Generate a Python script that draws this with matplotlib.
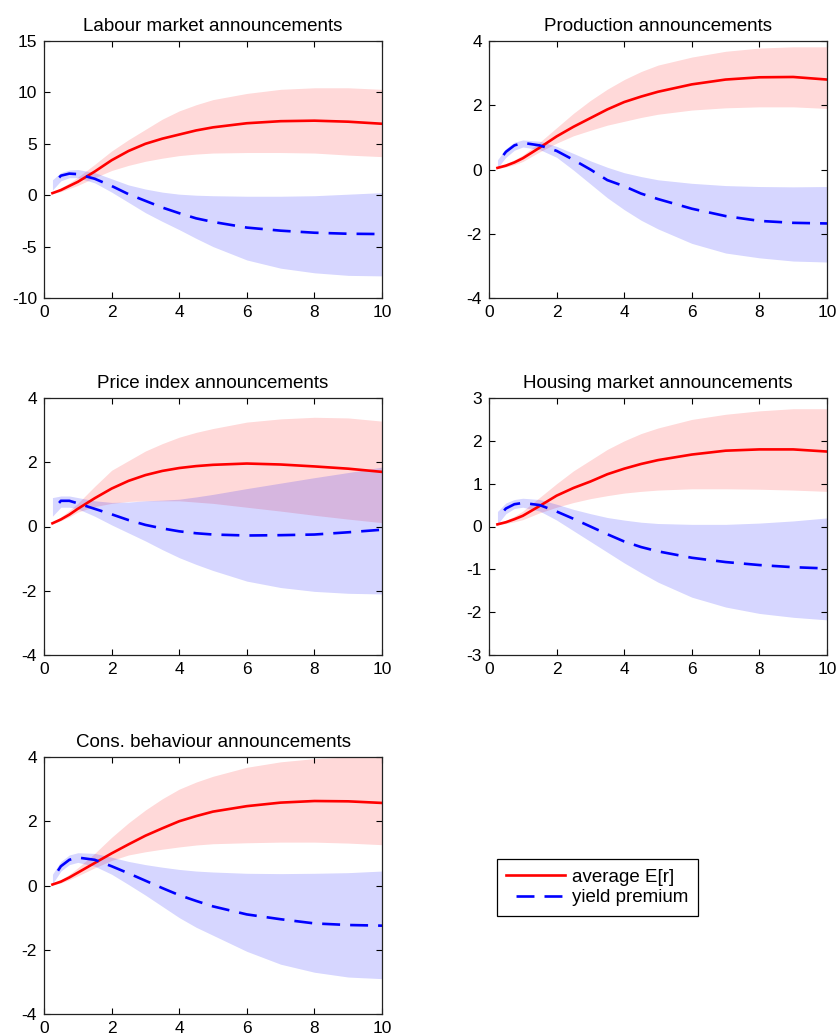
import matplotlib
matplotlib.use("Agg")
import matplotlib.pyplot as plt
from matplotlib.lines import Line2D

plt.rcParams['font.family'] = ['Liberation Sans', 'DejaVu Sans']
plt.rcParams['axes.unicode_minus'] = False

# horizon (years)
x = [0.25, 0.5, 0.75, 1, 1.5, 2, 2.5, 3, 3.5, 4, 4.5, 5, 6, 7, 8, 9, 10]

titles = ["Labour market announcements", "Production announcements",
          "Price index announcements", "Housing market announcements",
          "Cons. behaviour announcements"]
ylims = [(-10, 15), (-4, 4), (-4, 4), (-3, 3), (-4, 4)]
yticks = [[-10, -5, 0, 5, 10, 15], [-4, -2, 0, 2, 4], [-4, -2, 0, 2, 4],
          [-3, -2, -1, 0, 1, 2, 3], [-4, -2, 0, 2, 4]]
xticks = [0, 2, 4, 6, 8, 10]

# average E[r]
er_labour = [0.2, 0.5, 0.9, 1.3, 2.3, 3.4, 4.3, 5.0, 5.5, 5.9, 6.3, 6.6, 7.0, 7.2, 7.25, 7.15, 6.95]
er_labour_hi = [0.25, 0.7, 1.2, 1.75, 3.0, 4.3, 5.4, 6.4, 7.4, 8.2, 8.8, 9.3, 9.9, 10.3, 10.45, 10.45, 10.3]
er_labour_lo = [0.15, 0.35, 0.65, 0.95, 1.7, 2.4, 2.9, 3.3, 3.6, 3.85, 4.0, 4.1, 4.15, 4.15, 4.1, 3.9, 3.75]
yp_labour = [1.0, 1.9, 2.1, 2.05, 1.6, 0.9, 0.1, -0.55, -1.2, -1.75, -2.25, -2.6, -3.15, -3.45, -3.65, -3.75, -3.78]
yp_labour_hi = [1.5, 2.2, 2.45, 2.5, 2.2, 1.6, 1.0, 0.6, 0.3, 0.1, 0.0, -0.05, -0.1, -0.1, -0.05, 0.1, 0.25]
yp_labour_lo = [0.5, 1.4, 1.7, 1.7, 1.2, 0.3, -0.7, -1.7, -2.55, -3.35, -4.2, -5.0, -6.3, -7.1, -7.55, -7.8, -7.85]

er_prod = [0.05, 0.12, 0.22, 0.35, 0.68, 1.03, 1.33, 1.6, 1.87, 2.1, 2.27, 2.42, 2.65, 2.8, 2.87, 2.88, 2.8]
er_prod_hi = [0.07, 0.18, 0.3, 0.45, 0.85, 1.3, 1.75, 2.15, 2.5, 2.8, 3.05, 3.25, 3.5, 3.68, 3.78, 3.82, 3.82]
er_prod_lo = [0.03, 0.08, 0.15, 0.25, 0.55, 0.82, 1.05, 1.22, 1.38, 1.5, 1.62, 1.72, 1.85, 1.92, 1.95, 1.95, 1.9]
yp_prod = [0.2, 0.55, 0.75, 0.83, 0.75, 0.58, 0.3, 0.0, -0.33, -0.52, -0.75, -0.92, -1.22, -1.45, -1.6, -1.66, -1.68]
yp_prod_hi = [0.3, 0.65, 0.85, 0.92, 0.88, 0.72, 0.5, 0.27, 0.07, -0.1, -0.22, -0.32, -0.43, -0.5, -0.53, -0.54, -0.53]
yp_prod_lo = [0.05, 0.38, 0.6, 0.7, 0.62, 0.38, -0.02, -0.45, -0.88, -1.25, -1.58, -1.85, -2.3, -2.6, -2.75, -2.85, -2.88]

er_price = [0.1, 0.22, 0.37, 0.55, 0.88, 1.18, 1.42, 1.6, 1.73, 1.82, 1.88, 1.92, 1.96, 1.93, 1.87, 1.8, 1.7]
er_price_hi = [0.12, 0.3, 0.5, 0.72, 1.25, 1.75, 2.05, 2.35, 2.58, 2.78, 2.93, 3.05, 3.25, 3.35, 3.4, 3.38, 3.28]
er_price_lo = [0.08, 0.18, 0.3, 0.45, 0.62, 0.72, 0.78, 0.8, 0.8, 0.8, 0.76, 0.72, 0.6, 0.48, 0.35, 0.23, 0.12]
yp_price = [0.5, 0.8, 0.8, 0.72, 0.55, 0.38, 0.2, 0.05, -0.06, -0.15, -0.21, -0.25, -0.28, -0.27, -0.25, -0.18, -0.1]
yp_price_hi = [0.9, 0.95, 0.95, 0.9, 0.8, 0.75, 0.76, 0.8, 0.82, 0.85, 0.92, 1.0, 1.18, 1.35, 1.52, 1.68, 1.85]
yp_price_lo = [0.32, 0.6, 0.6, 0.55, 0.32, 0.05, -0.2, -0.45, -0.72, -0.97, -1.18, -1.37, -1.7, -1.9, -2.02, -2.08, -2.1]

er_house = [0.05, 0.1, 0.17, 0.25, 0.48, 0.72, 0.9, 1.05, 1.22, 1.35, 1.46, 1.55, 1.68, 1.77, 1.8, 1.8, 1.75]
er_house_hi = [0.06, 0.14, 0.24, 0.36, 0.68, 1.0, 1.3, 1.55, 1.8, 2.0, 2.17, 2.3, 2.5, 2.62, 2.7, 2.75, 2.75]
er_house_lo = [0.04, 0.07, 0.11, 0.16, 0.32, 0.45, 0.56, 0.65, 0.72, 0.78, 0.82, 0.85, 0.88, 0.88, 0.87, 0.85, 0.82]
yp_house = [0.2, 0.42, 0.52, 0.55, 0.5, 0.35, 0.18, 0.0, -0.18, -0.35, -0.48, -0.58, -0.73, -0.83, -0.9, -0.95, -0.98]
yp_house_hi = [0.35, 0.55, 0.63, 0.66, 0.63, 0.52, 0.4, 0.3, 0.21, 0.15, 0.1, 0.07, 0.05, 0.05, 0.08, 0.13, 0.2]
yp_house_lo = [0.05, 0.3, 0.42, 0.45, 0.36, 0.15, -0.1, -0.35, -0.6, -0.85, -1.08, -1.3, -1.65, -1.88, -2.03, -2.12, -2.18]

er_cons = [0.03, 0.12, 0.25, 0.4, 0.7, 1.0, 1.28, 1.55, 1.78, 2.0, 2.16, 2.3, 2.47, 2.58, 2.63, 2.62, 2.57]
er_cons_hi = [0.04, 0.18, 0.35, 0.55, 1.0, 1.5, 1.95, 2.35, 2.7, 3.0, 3.22, 3.4, 3.68, 3.85, 3.95, 4.0, 4.0]
er_cons_lo = [0.02, 0.08, 0.18, 0.3, 0.55, 0.78, 0.95, 1.05, 1.13, 1.2, 1.26, 1.3, 1.33, 1.35, 1.35, 1.32, 1.27]
yp_cons = [0.2, 0.6, 0.8, 0.87, 0.8, 0.6, 0.38, 0.15, -0.08, -0.3, -0.48, -0.65, -0.9, -1.05, -1.18, -1.23, -1.25]
yp_cons_hi = [0.35, 0.75, 0.95, 1.02, 1.0, 0.88, 0.75, 0.65, 0.57, 0.5, 0.45, 0.42, 0.38, 0.37, 0.38, 0.4, 0.45]
yp_cons_lo = [0.05, 0.45, 0.65, 0.72, 0.6, 0.35, 0.03, -0.3, -0.65, -1.0, -1.3, -1.55, -2.05, -2.45, -2.7, -2.85, -2.9]

panels = [
    (er_labour, er_labour_hi, er_labour_lo, yp_labour, yp_labour_hi, yp_labour_lo),
    (er_prod, er_prod_hi, er_prod_lo, yp_prod, yp_prod_hi, yp_prod_lo),
    (er_price, er_price_hi, er_price_lo, yp_price, yp_price_hi, yp_price_lo),
    (er_house, er_house_hi, er_house_lo, yp_house, yp_house_hi, yp_house_lo),
    (er_cons, er_cons_hi, er_cons_lo, yp_cons, yp_cons_hi, yp_cons_lo),
]

W, H = 836, 1036
fig = plt.figure(figsize=(W / 100, H / 100), dpi=100)

lefts = [44, 489]
tops = [41, 398, 757]
aw, ah = 338, 257

LW = 1.9
dash = (6.8, (6.8, 3.8))

for i, (t, data) in enumerate(zip(titles, panels)):
    r, c = divmod(i, 2)
    l = lefts[c]
    tp = tops[r]
    ax = fig.add_axes([l / W, 1 - (tp + ah) / H, aw / W, ah / H])
    er, er_hi, er_lo, yp, yp_hi, yp_lo = data
    ax.fill_between(x, er_lo, er_hi, color='red', alpha=0.15, lw=0)
    ax.fill_between(x, yp_lo, yp_hi, color='blue', alpha=0.16, lw=0)
    ax.plot(x, er, color='red', lw=LW)
    ax.plot(x, yp, color='blue', lw=LW, linestyle=dash)
    ax.set_xlim(0, 10)
    ax.set_ylim(*ylims[i])
    ax.set_xticks(xticks)
    ax.set_yticks(yticks[i])
    ax.tick_params(direction='in', top=True, right=True, length=4, width=0.8,
                   labelsize=12.5, pad=5, colors='black')
    for s in ax.spines.values():
        s.set_linewidth(0.9)
        s.set_color('#222222')
    ax.set_title(t, fontsize=13.5, pad=7.5)

handles = [Line2D([], [], color='red', lw=LW),
           Line2D([], [], color='blue', lw=LW, linestyle=dash)]
leg = fig.legend(handles, ['average E[r]', 'yield premium'],
                 loc='upper left', bbox_to_anchor=(497 / W, 1 - 859 / H),
                 borderaxespad=0, fancybox=False, edgecolor='black',
                 framealpha=1, fontsize=13.5, handlelength=3.1,
                 handletextpad=0.4, labelspacing=0.2, borderpad=0.5)
leg.get_frame().set_linewidth(0.9)

fig.savefig('out.png', dpi=100)
